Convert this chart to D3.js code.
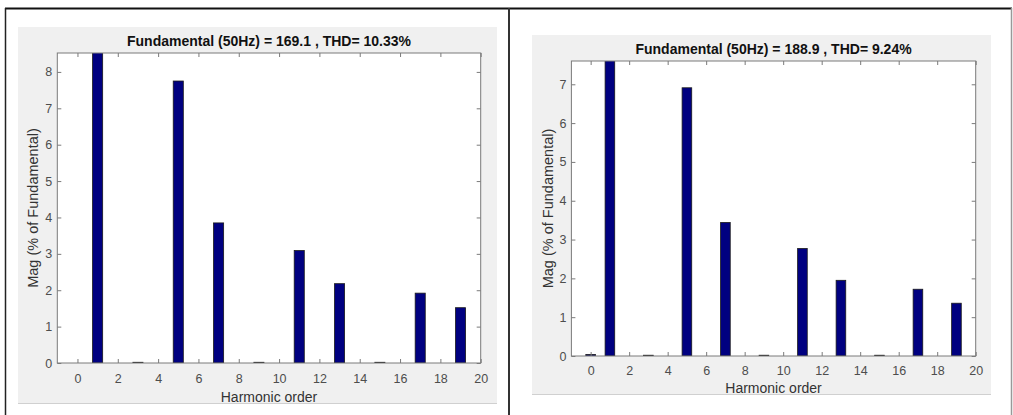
<!DOCTYPE html>
<html>
<head>
<meta charset="utf-8">
<script src="https://cdn.jsdelivr.net/npm/d3@7"></script>
<style>
  html, body { margin: 0; padding: 0; background: #ffffff; }
  svg { display: block; }
  text { font-family: "Liberation Sans", Arial, Helvetica, sans-serif; }
</style>
</head>
<body>
<svg id="chart" width="1013" height="415"></svg>
<script>
// ---- data ----
const harmonicOrders = [0,1,2,3,4,5,6,7,8,9,10,11,12,13,14,15,16,17,18,19];
const magLeft  = [0, 100, 0, 0.02, 0, 7.75, 0, 3.85, 0, 0.02, 0, 3.09, 0, 2.18, 0, 0.02, 0, 1.92, 0, 1.52];
const magRight = [0.04, 100, 0, 0.02, 0, 6.91, 0, 3.44, 0, 0.02, 0, 2.77, 0, 1.95, 0, 0.02, 0, 1.72, 0, 1.36];
const titleLeft  = "Fundamental (50Hz) = 169.1 , THD= 10.33%";
const titleRight = "Fundamental (50Hz) = 188.9 , THD= 9.24%";
const xTickValues = [0,2,4,6,8,10,12,14,16,18,20];
const yTicksLeft  = [0,1,2,3,4,5,6,7,8];
const yTicksRight = [0,1,2,3,4,5,6,7];
const xDomain = [-1, 20];
const yMaxLeft = 8.52;
const yMaxRight = 7.6;
const xLabelText = "Harmonic order";
const yLabelText = "Mag (% of Fundamental)";

const svg = d3.select("#chart");

// table frame
svg.append("line").attr("x1", 5).attr("x2", 1012).attr("y1", 8.5).attr("y2", 8.5)
  .attr("stroke", "#111").attr("stroke-width", 2);
svg.append("line").attr("x1", 5.5).attr("x2", 5.5).attr("y1", 8).attr("y2", 415)
  .attr("stroke", "#222").attr("stroke-width", 1.5);
svg.append("line").attr("x1", 509).attr("x2", 509).attr("y1", 8).attr("y2", 415)
  .attr("stroke", "#333").attr("stroke-width", 2);
svg.append("line").attr("x1", 1011.5).attr("x2", 1011.5).attr("y1", 8).attr("y2", 415)
  .attr("stroke", "#999").attr("stroke-width", 1.5);

function panel(cfg, idx) {
  const g = svg.append("g");
  // figure background
  g.append("rect").attr("x", cfg.bg[0]).attr("y", cfg.bg[1])
    .attr("width", cfg.bg[2] - cfg.bg[0]).attr("height", cfg.bg[3] - cfg.bg[1])
    .attr("fill", "#f0f0f0");
  g.append("line").attr("x1", cfg.bg[0]).attr("x2", cfg.bg[2])
    .attr("y1", cfg.bg[3] - 0.5).attr("y2", cfg.bg[3] - 0.5)
    .attr("stroke", "#d0d0d0").attr("stroke-width", 1);

  const [L, T, R, B] = cfg.ax;
  const x = d3.scaleLinear().domain(xDomain).range([L, R]);
  const y = d3.scaleLinear().domain([0, cfg.yMax]).range([B, T]);

  g.append("rect").attr("x", L).attr("y", T).attr("width", R - L).attr("height", B - T)
    .attr("fill", "#ffffff");

  const clipId = "clip" + idx;
  g.append("clipPath").attr("id", clipId).append("rect")
    .attr("x", L).attr("y", T).attr("width", R - L).attr("height", B - T);

  const bw = x(0.5) - x(0);
  g.append("g").attr("clip-path", `url(#${clipId})`)
    .selectAll("rect").data(harmonicOrders.map((h, i) => ({h, v: cfg.values[i]})).filter(d => d.v > 0))
    .join("rect")
    .attr("x", d => x(d.h) - bw / 2)
    .attr("width", bw)
    .attr("y", d => y(d.v))
    .attr("height", d => Math.max(0, y(0) - y(d.v)))
    .attr("fill", "#000080")
    .attr("stroke", "#1a1a1a")
    .attr("stroke-width", 0.8);

  const axColor = "#7a7a7a";
  const tickColor = "#4d4d4d";
  // bottom axis
  const xb = g.append("g").attr("transform", `translate(0,${B})`)
    .call(d3.axisBottom(x).tickValues(xTickValues).tickSize(-4).tickPadding(cfg.xPad).tickFormat(d3.format("d")));
  // top axis (ticks only)
  const xt = g.append("g").attr("transform", `translate(0,${T})`)
    .call(d3.axisTop(x).tickValues(xTickValues).tickSize(-4).tickFormat(""));
  // left axis
  const yl = g.append("g").attr("transform", `translate(${L},0)`)
    .call(d3.axisLeft(y).tickValues(cfg.yTicks).tickSize(-4).tickPadding(5).tickFormat(d3.format("d")));
  // right axis
  const yr = g.append("g").attr("transform", `translate(${R},0)`)
    .call(d3.axisRight(y).tickValues(cfg.yTicks).tickSize(-4).tickFormat(""));

  [xb, xt, yl, yr].forEach(a => {
    a.select(".domain").remove();
    a.selectAll(".tick line").attr("stroke", axColor);
    a.selectAll(".tick text").attr("fill", tickColor)
      .style("font-size", "12.5px").style("font-family", "'Liberation Sans', Arial, sans-serif");
  });

  g.append("rect").attr("x", L).attr("y", T).attr("width", R - L).attr("height", B - T)
    .attr("fill", "none").attr("stroke", axColor).attr("stroke-width", 1);

  // title
  g.append("text").attr("x", (L + R) / 2).attr("y", cfg.titleY)
    .attr("text-anchor", "middle").style("font-size", "14px").style("font-weight", "bold")
    .attr("fill", "#111").text(cfg.title);
  // x label
  g.append("text").attr("x", (L + R) / 2).attr("y", cfg.xLabelY)
    .attr("text-anchor", "middle").style("font-size", "14px")
    .attr("fill", "#333").text(xLabelText);
  // y label
  g.append("text").attr("transform", `translate(${cfg.yLabelX},${(T + B) / 2}) rotate(-90)`)
    .attr("text-anchor", "middle").style("font-size", "14.5px")
    .attr("fill", "#333").text(yLabelText);
}

panel({
  bg: [18, 27, 497, 404],
  ax: [57.3, 53, 480.7, 363],
  yMax: yMaxLeft,
  values: magLeft,
  yTicks: yTicksLeft,
  title: titleLeft,
  titleY: 46,
  xLabelY: 402,
  yLabelX: 38,
  xPad: 11
}, 0);

panel({
  bg: [532, 35, 991, 395],
  ax: [571.4, 61, 975.7, 356],
  yMax: yMaxRight,
  values: magRight,
  yTicks: yTicksRight,
  title: titleRight,
  titleY: 54,
  xLabelY: 393,
  yLabelX: 553,
  xPad: 10
}, 1);
</script>
</body>
</html>
